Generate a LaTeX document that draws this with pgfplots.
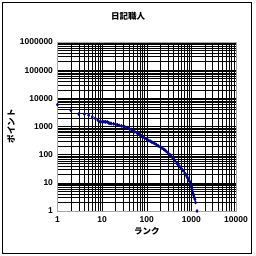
\documentclass[border=0pt]{standalone}
\usepackage{pgfplots}
\pgfplotsset{compat=1.18}
\usepackage{fontspec}
\setmainfont{Liberation Sans}
\newfontfamily\cjk{Noto Sans CJK JP}
\definecolor{navy}{RGB}{0,0,128}
\begin{document}
\begin{tikzpicture}[x=1pt,y=1pt]
\path[use as bounding box] (0,0) rectangle (256,256);
\draw[black,line width=0.8pt] (2.5,2.5) rectangle (251.5,253.5);
\node[font=\cjk\bfseries\fontsize{8.5}{9}\selectfont] at (128,240) {日記職人};
\begin{axis}[
  at={(57.5pt,45pt)}, anchor=south west,
  scale only axis, width=178.5pt, height=169pt,
  xmode=log, ymode=log, clip=false,
  xmin=1, xmax=10000, ymin=1, ymax=1000000,
  xtick={1,10,100,1000,10000},
  xticklabels={1,10,100,1000,10000},
  ytick={1,10,100,1000,10000,100000,1000000},
  yticklabels={1,10,100,1000,10000,100000,1000000},
  grid=both,
  major grid style={black,line width=0.5pt},
  minor grid style={black,line width=0.5pt},
  axis line style={gray!70,line width=0.8pt},
  major tick length=0pt, minor tick length=0pt,
  tick label style={font=\bfseries\fontsize{8.5}{9}\selectfont},
  /pgf/number format/assume math mode=true,
  xticklabel style={yshift=-2pt},
  yticklabel style={xshift=-1pt},
  xlabel={\cjk ランク}, ylabel={\cjk ポイント},
  label style={font=\bfseries\fontsize{8.5}{9}\selectfont},
  xlabel style={yshift=2pt},
  ylabel style={yshift=-2pt},
]
\addplot[only marks, mark=diamond*, mark size=1.6pt, color=navy] coordinates {
(1,6000)(2,3800)(3,2750)(4,2750)(5,2500)(6,2200)(7,1950)(8,1700)(9,1480)(10,1470)
(11,1470)(12,1460)(13,1450)(14,1350)(15,1300)(16,1280)(18,1250)(20,1200)(22,1150)
(24,1100)(27,1050)(30,1000)(32,980)(36,920)(40,870)(45,780)(50,700)(54,650)(60,600)
(65,560)(70,500)(75,470)(80,440)(90,380)(100,350)(110,320)(120,300)(130,280)
(140,265)(150,250)(165,225)(180,205)(200,190)(220,170)(240,155)(255,146)(275,130)
(300,115)(330,100)(360,85)(395,72)(430,60)(470,50)(510,43)(555,37)(600,32)
(650,27)(710,22)(760,19)(800,16)(840,14.5)(880,12.5)(920,11)(960,9)(1000,7.5)
(1030,6.5)(1060,5)(1090,4.2)(1130,3.5)(1170,3)(1200,2.6)(1240,2)(1340,1)
};
\end{axis}
\end{tikzpicture}
\end{document}
